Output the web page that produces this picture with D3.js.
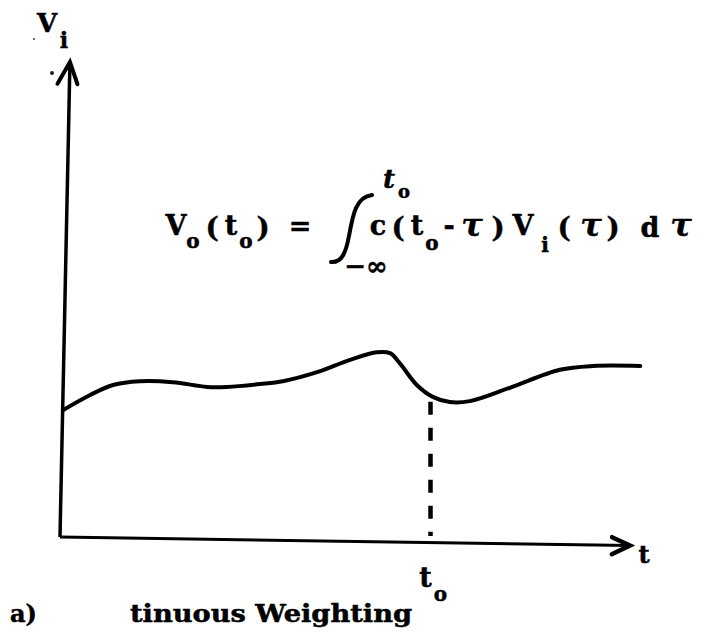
<!DOCTYPE html>
<html>
<head>
<meta charset="utf-8">
<script src="https://cdn.jsdelivr.net/npm/d3@7/dist/d3.min.js"></script>
<style>
  html, body { margin: 0; padding: 0; background: #fff; }
  svg { display: block; }
  .tw { font-family: "DejaVu Serif", "Liberation Serif", serif; font-weight: bold; fill: #000; stroke: #000; stroke-width: 0.5px; }
  .tau { font-family: "DejaVu Serif", serif; font-style: italic; font-weight: bold; fill: #000; stroke: #000; stroke-width: 0.4px; }
</style>
</head>
<body>
<script>
// Input signal v_i(t): time samples and amplitudes
const tValues = [0.5, 5.3, 9.3, 14.0, 19.8, 25.8, 29.3, 35.1, 39.1, 45.1, 50.9, 55.6, 57.9, 59.6, 62.6, 65.4, 68.4, 71.9, 78.9, 87.7, 93.5, 101.8];
const vValues = [2.67, 2.99, 3.20, 3.28, 3.26, 3.16, 3.16, 3.22, 3.28, 3.47, 3.73, 3.89, 3.87, 3.66, 3.20, 2.95, 2.84, 2.86, 3.14, 3.52, 3.60, 3.60];

// Observation instant t_o and the signal level where the marker starts
const tObs = 65;
const vObs = 2.85;

// Axis extents (data units) and labels
const tMax = 100;
const vMax = 10;
const yAxisLabel = ["V", "i"];
const xAxisLabel = "t";
const obsLabel = ["t", "o"];
const captionLetter = "a)";
const captionText = "tinuous Weighting";

const W = 706, H = 637;
const svg = d3.select("body").append("svg").attr("width", W).attr("height", H);

const x = d3.scaleLinear().domain([0, tMax]).range([60, 630]);
const y = d3.scaleLinear().domain([0, vMax]).range([537, 62]);

// Axes (hand-drawn, slightly rotated about the origin)
const ox = x(0), oy = y(0);
const yAxisG = svg.append("g").attr("transform", `rotate(1.2 ${ox} ${oy})`);
yAxisG.append("line")
  .attr("x1", ox).attr("y1", oy).attr("x2", ox).attr("y2", y(vMax) + 2)
  .attr("stroke", "#000").attr("stroke-width", 3.5);
yAxisG.append("path")
  .attr("d", `M${ox - 12},${y(vMax) + 22} L${ox},${y(vMax)} L${ox + 8},${y(vMax) + 22}`)
  .attr("fill", "none").attr("stroke", "#000").attr("stroke-width", 4)
  .attr("stroke-linejoin", "miter").attr("stroke-linecap", "round");

const xAxisG = svg.append("g").attr("transform", `rotate(0.85 ${ox} ${oy})`);
xAxisG.append("line")
  .attr("x1", ox).attr("y1", oy).attr("x2", x(tMax)).attr("y2", oy)
  .attr("stroke", "#000").attr("stroke-width", 3);
xAxisG.append("path")
  .attr("d", `M${x(tMax) - 18},${oy - 8} L${x(tMax)},${oy} L${x(tMax) - 18},${oy + 9}`)
  .attr("fill", "none").attr("stroke", "#000").attr("stroke-width", 4.5)
  .attr("stroke-linejoin", "miter").attr("stroke-linecap", "round");

// Signal curve
const pts = tValues.map((t, i) => [t, vValues[i]]);
const line = d3.line().x(d => x(d[0])).y(d => y(d[1])).curve(d3.curveCatmullRom.alpha(0.5));
svg.append("path").attr("d", line(pts))
  .attr("fill", "none").attr("stroke", "#000").attr("stroke-width", 4)
  .attr("stroke-linecap", "round").attr("stroke-linejoin", "round");

// Dashed marker at t_o
svg.append("line")
  .attr("x1", x(tObs)).attr("x2", x(tObs))
  .attr("y1", y(vObs)).attr("y2", y(0) - 1)
  .attr("stroke", "#000").attr("stroke-width", 4.5)
  .attr("stroke-dasharray", "13,13");

// Axis labels
svg.append("text").attr("class", "tw").attr("x", 47).attr("y", 32)
  .attr("text-anchor", "middle").attr("font-size", 26).text(yAxisLabel[0]);
svg.append("text").attr("class", "tw").attr("x", 64).attr("y", 48)
  .attr("text-anchor", "middle").attr("font-size", 22).text(yAxisLabel[1]);

svg.append("text").attr("class", "tw").attr("x", 644).attr("y", 563)
  .attr("text-anchor", "middle").attr("font-size", 24).text(xAxisLabel);

svg.append("text").attr("class", "tw").attr("x", x(tObs) - 5).attr("y", 587)
  .attr("text-anchor", "middle").attr("font-size", 27).text(obsLabel[0]);
svg.append("text").attr("class", "tw").attr("x", x(tObs) + 10).attr("y", 601)
  .attr("text-anchor", "middle").attr("font-size", 20).text(obsLabel[1]);

// Caption
svg.append("text").attr("class", "tw").attr("x", 10).attr("y", 622)
  .attr("font-size", 24).text(captionLetter);
svg.append("text").attr("class", "tw").attr("x", 130).attr("y", 622)
  .attr("font-size", 24).attr("textLength", 282).attr("lengthAdjust", "spacingAndGlyphs")
  .text(captionText);

// Convolution formula: v_o(t_o) = ∫_{-∞}^{t_o} c(t_o - τ) v_i(τ) dτ
const glyphs = [
  { s: "V", x: 176, y: 235, size: 27, cls: "tw" },
  { s: "o", x: 193, y: 248, size: 20, cls: "tw" },
  { s: "(", x: 212, y: 237, size: 28, cls: "tw" },
  { s: "t", x: 231, y: 235, size: 27, cls: "tw" },
  { s: "o", x: 246, y: 248, size: 20, cls: "tw" },
  { s: ")", x: 263, y: 237, size: 28, cls: "tw" },
  { s: "=", x: 300, y: 235, size: 27, cls: "tw" },
  { s: "c", x: 378, y: 235, size: 27, cls: "tw" },
  { s: "(", x: 398, y: 237, size: 28, cls: "tw" },
  { s: "t", x: 417, y: 235, size: 27, cls: "tw" },
  { s: "o", x: 432, y: 250, size: 20, cls: "tw" },
  { s: "-", x: 449, y: 235, size: 27, cls: "tw" },
  { s: "τ", x: 472, y: 236, size: 32, cls: "tau" },
  { s: ")", x: 498, y: 237, size: 28, cls: "tw" },
  { s: "V", x: 523, y: 235, size: 27, cls: "tw" },
  { s: "i", x: 545, y: 252, size: 20, cls: "tw" },
  { s: "(", x: 564, y: 237, size: 28, cls: "tw" },
  { s: "τ", x: 591, y: 236, size: 32, cls: "tau" },
  { s: ")", x: 613, y: 237, size: 28, cls: "tw" },
  { s: "d", x: 650, y: 237, size: 27, cls: "tw" },
  { s: "τ", x: 681, y: 236, size: 32, cls: "tau" },
  { s: "t", x: 389, y: 188, size: 26, cls: "tau" },
  { s: "o", x: 404, y: 198, size: 18, cls: "tw" },
  { s: "−∞", x: 366, y: 275, size: 26, cls: "tw" }
];
svg.append("g").selectAll("text").data(glyphs).join("text")
  .attr("class", d => d.cls)
  .attr("x", d => d.x).attr("y", d => d.y)
  .attr("text-anchor", "middle")
  .attr("font-size", d => d.size)
  .text(d => d.s);

// Integral sign
svg.append("path")
  .attr("d", "M331,262 C342,263 346,252 349,236 C353,214 356,197 372,195")
  .attr("fill", "none").attr("stroke", "#000").attr("stroke-width", 4)
  .attr("stroke-linecap", "round");

// Small specks
svg.append("circle").attr("cx", 52).attr("cy", 73).attr("r", 2).attr("fill", "#222");
svg.append("circle").attr("cx", 34).attr("cy", 39).attr("r", 1).attr("fill", "#444");
</script>
</body>
</html>
